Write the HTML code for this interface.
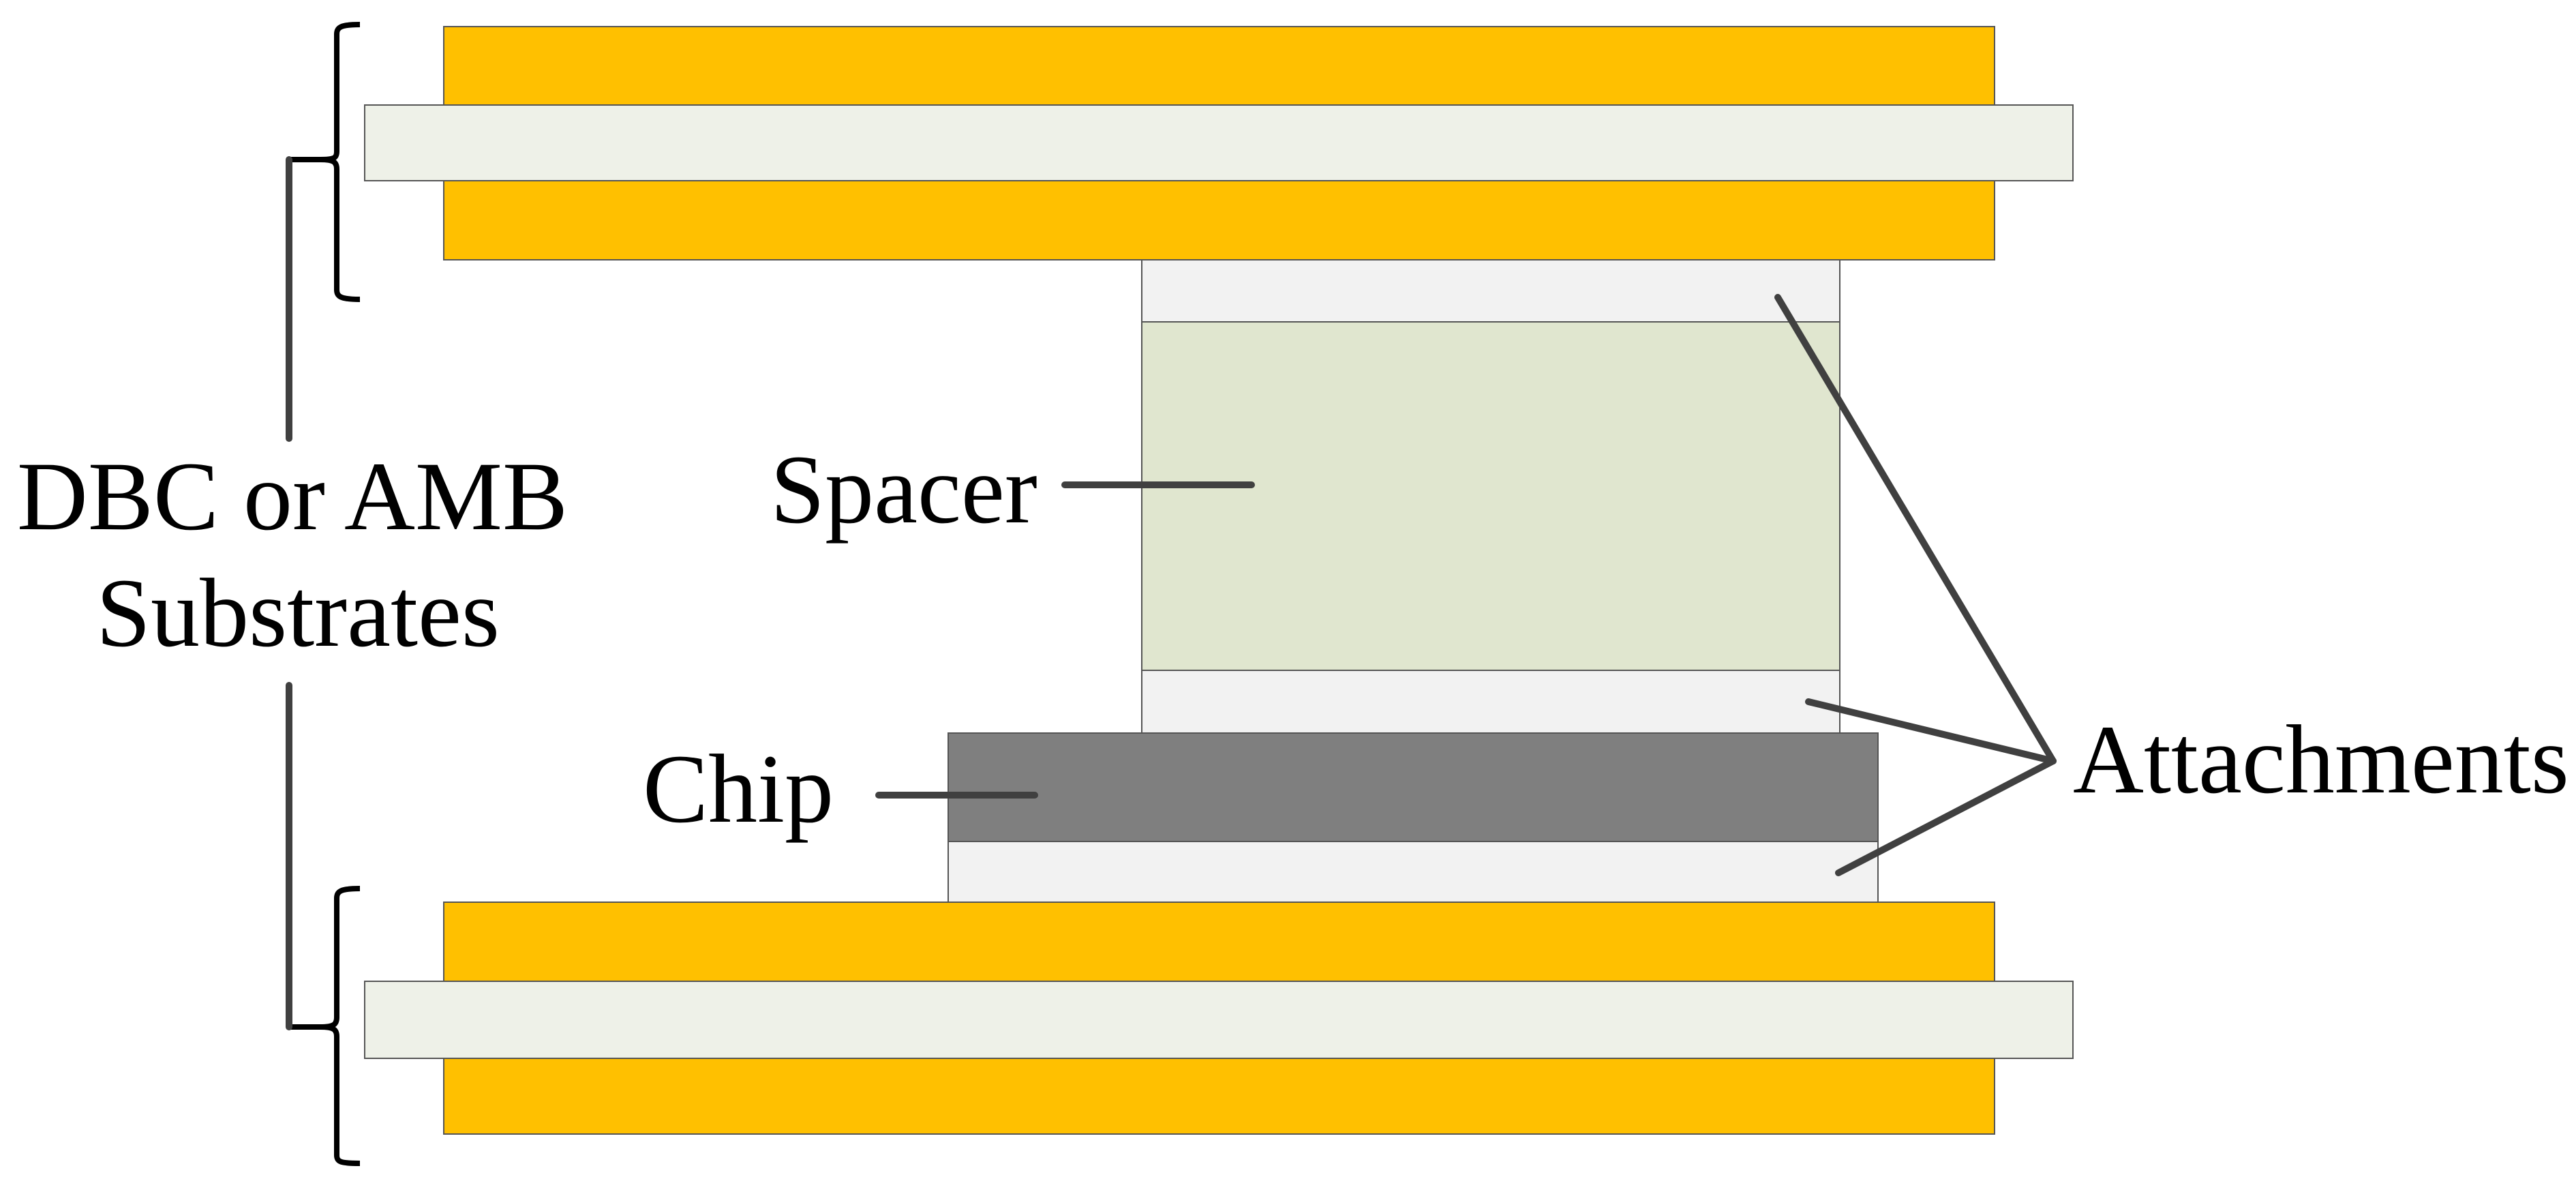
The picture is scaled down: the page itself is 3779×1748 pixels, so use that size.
<!DOCTYPE html>
<html><head><meta charset="utf-8"><style>html,body{margin:0;padding:0;background:#fff}svg{display:block}</style></head>
<body>
<svg width="3779" height="1748" viewBox="0 0 3779 1748" xmlns="http://www.w3.org/2000/svg" font-family="'Liberation Serif', serif" font-size="144">
<g stroke="#555" stroke-width="2">
<rect x="651" y="39" width="2275" height="342" fill="#FFC000"/>
<rect x="535" y="154" width="2506" height="111" fill="#EEF1E8"/>
<rect x="1675" y="381" width="1024" height="91" fill="#F2F2F2"/>
<rect x="1675" y="472" width="1024" height="511" fill="#E0E6CF"/>
<rect x="1675" y="983" width="1024" height="92" fill="#F2F2F2"/>
<rect x="1391" y="1234" width="1364" height="89" fill="#F2F2F2"/>
<rect x="1391" y="1075" width="1364" height="159" fill="#7F7F7F"/>
<rect x="651" y="1323" width="2275" height="340" fill="#FFC000"/>
<rect x="535" y="1439" width="2506" height="113" fill="#EEF1E8"/>
</g>
<g fill="none" stroke="#000" stroke-width="8">
<path d="M528,36 C500,36 494,40 494,50 L494,222 C494,232 490,234 470,234 L424,234 M470,234 C490,234 494,238 494,248 L494,425 C494,435 500,439 528,439"/>
<path d="M528,1303 C500,1303 494,1307 494,1317 L494,1492 C494,1502 490,1506 470,1506 L424,1506 M470,1506 C490,1506 494,1510 494,1520 L494,1694 C494,1704 500,1706 528,1706"/>
</g>
<g stroke="#404040" stroke-width="10" stroke-linecap="round" fill="none">
<line x1="424" y1="234" x2="424" y2="643"/>
<line x1="424" y1="1005" x2="424" y2="1506"/>
<line x1="1562" y1="711" x2="1836" y2="711"/>
<line x1="1289" y1="1166" x2="1518" y2="1166"/>
<line x1="3012" y1="1116" x2="2608" y2="436"/>
<line x1="3012" y1="1116" x2="2653" y2="1029"/>
<line x1="3012" y1="1116" x2="2697" y2="1280"/>
</g>
<g fill="#000">
<text x="429" y="776" text-anchor="middle">DBC or AMB</text>
<text x="437" y="947" text-anchor="middle">Substrates</text>
<text x="1130" y="766">Spacer</text>
<text x="943" y="1205">Chip</text>
<text x="3041" y="1162">Attachments</text>
</g>
</svg>
</body></html>
